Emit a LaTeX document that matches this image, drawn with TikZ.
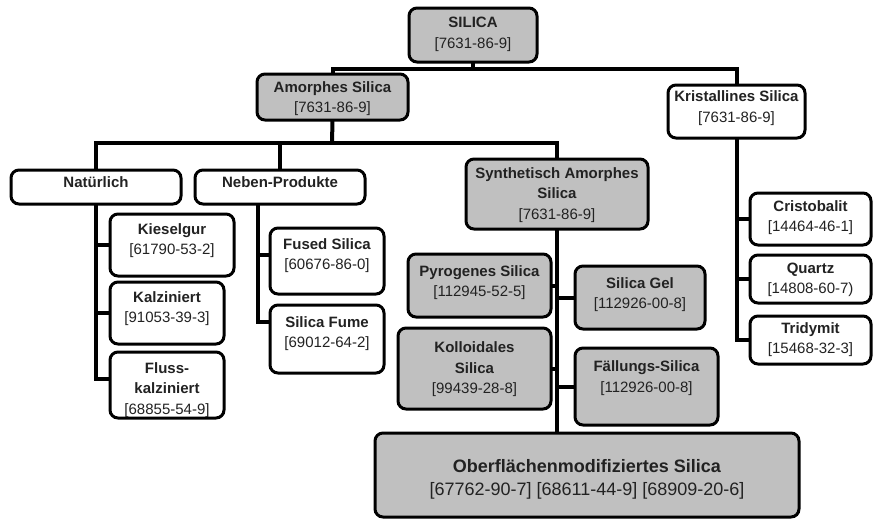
\documentclass[tikz,border=0pt]{standalone}
\usepackage{fontspec}
\setmainfont{Liberation Sans}
\usetikzlibrary{backgrounds}
\definecolor{boxgray}{RGB}{192,192,192}
\definecolor{txtc}{RGB}{34,34,34}
\begin{document}
\begin{tikzpicture}[x=1pt,y=-1pt,
  basebox/.style={draw=black, line width=3pt, rounded corners=8pt, inner sep=0pt, outer sep=0pt},
  gbox/.style={basebox, fill=boxgray},
  wbox/.style={basebox, fill=white},
  conn/.style={draw=black, line width=4pt},
  lbl/.style={anchor=base, align=center, inner sep=0pt, text=txtc, font=\fontsize{15}{20.5}\selectfont},
  biglbl/.style={anchor=base, align=center, inner sep=0pt, text=txtc, font=\fontsize{18}{23.5}\selectfont}]
\newcommand\mybox[6]{\node[#1, minimum width={#4-#2}, minimum height={#5-#3}] (#6) at ({(#2+#4)/2},{(#3+#5)/2}) {};}
\useasboundingbox (0,0) rectangle (874,520);
% boxes
\mybox{gbox}{409}{8}{537}{62}{sil}
\mybox{gbox}{257}{74}{408}{120}{amo}
\mybox{wbox}{668}{85}{805}{138}{kri}
\mybox{wbox}{11}{170}{181}{204}{nat}
\mybox{wbox}{195}{170}{365}{204}{neb}
\mybox{gbox}{466}{159}{648}{229}{syn}
\mybox{wbox}{110}{214}{234}{276}{kie}
\mybox{wbox}{110}{282}{224}{344}{kal}
\mybox{wbox}{110}{352}{224}{418}{flu}
\mybox{wbox}{270}{228}{384}{294}{fus}
\mybox{wbox}{270}{305}{384}{373}{fum}
\mybox{gbox}{408}{254}{551}{317}{pyr}
\mybox{gbox}{398}{328}{551}{409}{kol}
\mybox{gbox}{575}{266}{705}{329}{gel}
\mybox{gbox}{575}{348}{718}{425}{fae}
\mybox{gbox}{375}{433}{799}{517}{obf}
\mybox{wbox}{750}{193}{871}{245}{cri}
\mybox{wbox}{750}{255}{871}{303}{qua}
\mybox{wbox}{750}{316}{871}{364}{tri}
\coordinate (j1) at (473,69);
\coordinate (j2) at (332,143);
\coordinate (flb) at ([yshift=-27pt]flu.north west);
\coordinate (fusb) at ([yshift=-27pt]fus.north west);
\coordinate (fumb) at ([yshift=-17pt]fum.north west);
\coordinate (nebd) at ([xshift=-22pt]neb.south);
% connectors behind the boxes
\begin{scope}[on background layer]
\fill[white] (0,0) rectangle (874,520);
\draw[conn] (sil.south) -- (j1);
\draw[conn] (amo.north) -- (amo.north |- j1) -- (kri.north |- j1) -- (kri.north);
\draw[conn] (amo.south) -- (j2);
\draw[conn] (nat.north) -- (nat.north |- j2) -- (syn.north |- j2) -- (syn.north);
\draw[conn] (neb.north) -- (neb.north |- j2);
\draw[conn] (nat.south) |- (flb);
\draw[conn] (nat.south |- kie.west) -- (kie.west);
\draw[conn] (nat.south |- kal.west) -- (kal.west);
\draw[conn] (nebd) |- (fumb);
\draw[conn] (nebd |- fusb) -- (fusb);
\draw[conn] (syn.south) -- (syn.south |- obf.north);
\draw[conn] (syn.south |- pyr.east) -- (pyr.east);
\draw[conn] (syn.south |- kol.east) -- (kol.east);
\draw[conn] (syn.south |- gel.west) -- (gel.west);
\draw[conn] (syn.south |- fae.west) -- (fae.west);
\draw[conn] (kri.south) |- (tri.west);
\draw[conn] (kri.south |- cri.west) -- (cri.west);
\draw[conn] (kri.south |- qua.west) -- (qua.west);
\end{scope}
% labels (anchor base = baseline of the last line)
\node[lbl] (tsil) at (473,48) {\textbf{SILICA}\\{[}7631-86-9{]}};
\node[lbl] (tamo) at (332.5,112.5) {\textbf{Amorphes Silica}\\{[}7631-86-9{]}};
\node[lbl] (tkri) at (736.5,122) {\textbf{Kristallines Silica}\\{[}7631-86-9{]}};
\node[lbl] (tnat) at (96,187) {\textbf{Natürlich}};
\node[lbl] (tneb) at (280,187) {\textbf{Neben-Produkte}};
\node[lbl] (tsyn) at (557,219) {\textbf{Synthetisch Amorphes}\\\textbf{Silica}\\{[}7631-86-9{]}};
\node[lbl] (tkie) at (172,254.5) {\textbf{Kieselgur}\\{[}61790-53-2{]}};
\node[lbl] (tkal) at (167,322.5) {\textbf{Kalziniert}\\{[}91053-39-3{]}};
\node[lbl] (tflu) at (167,414) {\textbf{Fluss-}\\\textbf{kalziniert}\\{[}68855-54-9{]}};
\node[lbl] (tfus) at (327,269.5) {\textbf{Fused Silica}\\{[}60676-86-0{]}};
\node[lbl] (tfum) at (327,347.5) {\textbf{Silica Fume}\\{[}69012-64-2{]}};
\node[lbl] (tpyr) at (479.5,296.5) {\textbf{Pyrogenes Silica}\\{[}112945-52-5{]}};
\node[lbl] (tkol) at (474.5,393.5) {\textbf{Kolloidales}\\\textbf{Silica}\\{[}99439-28-8{]}};
\node[lbl] (tgel) at (640,308.5) {\textbf{Silica Gel}\\{[}112926-00-8{]}};
\node[lbl] (tfae) at (646.5,392) {\textbf{Fällungs-Silica}\\{[}112926-00-8{]}};
\node[lbl] (tcri) at (810.5,231.5) {\textbf{Cristobalit}\\{[}14464-46-1{]}};
\node[lbl] (tqua) at (810.5,293.5) {\textbf{Quartz}\\{[}14808-60-7)};
\node[lbl] (ttri) at (810.5,353.5) {\textbf{Tridymit}\\{[}15468-32-3{]}};
\node[biglbl] (tobf) at (587,495.5) {\textbf{Oberflächenmodifiziertes Silica}\\{[}67762-90-7{]} {[}68611-44-9{]} {[}68909-20-6{]}};
\end{tikzpicture}
\end{document}
